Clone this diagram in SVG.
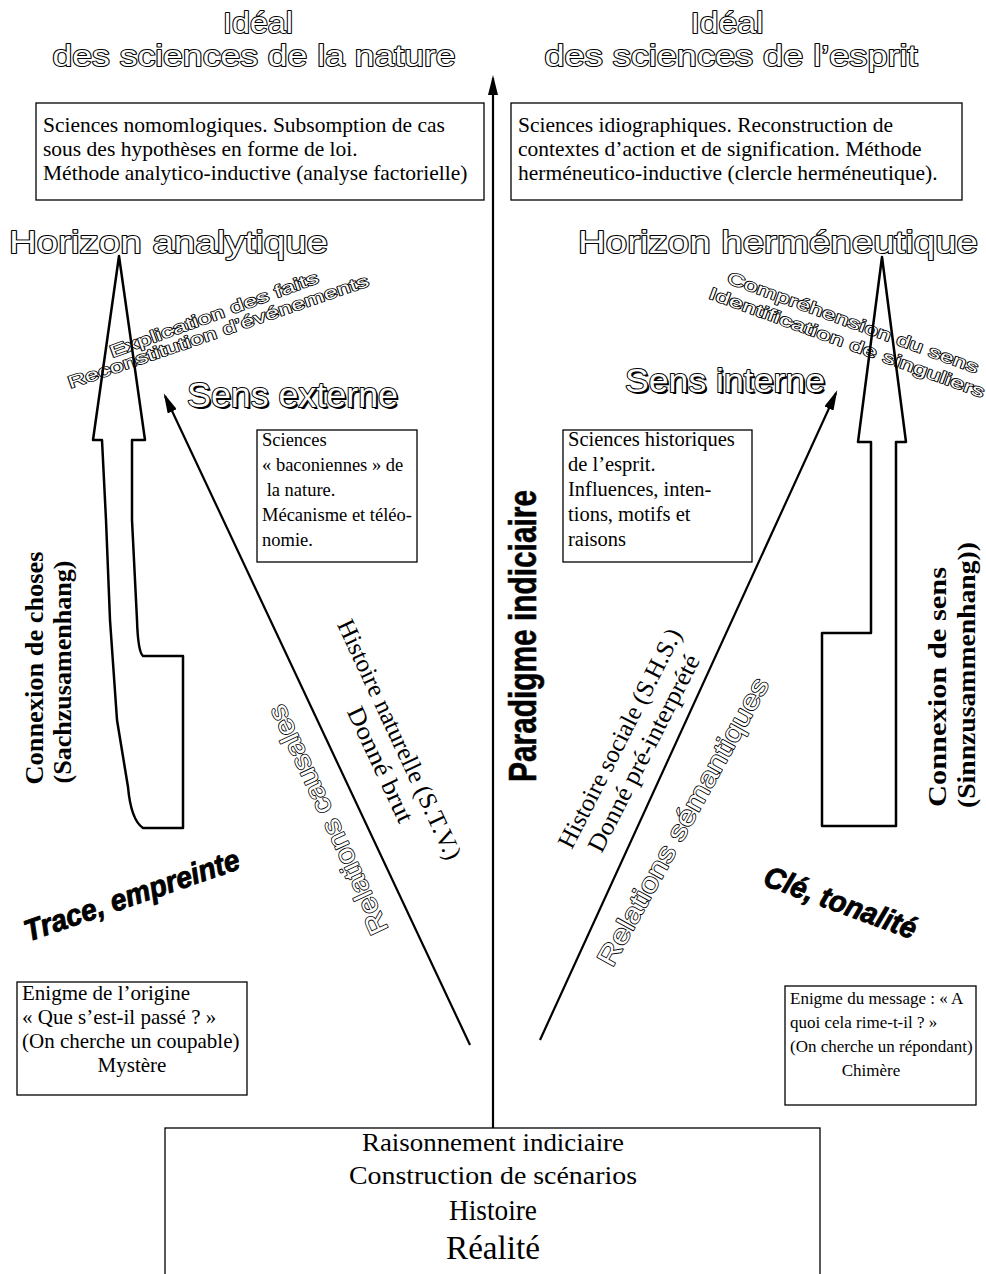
<svg xmlns="http://www.w3.org/2000/svg" width="986" height="1274" viewBox="0 0 986 1274">
<defs>
<style>
.hol{font-family:"Liberation Sans",Arial,sans-serif;fill:#fff;stroke:#000;stroke-width:2;stroke-linejoin:round;paint-order:stroke}
.hols{font-family:"Liberation Sans",Arial,sans-serif;fill:#fff;stroke:#000;stroke-width:1.6;stroke-linejoin:round;paint-order:stroke}
.sh{font-family:"Liberation Sans",Arial,sans-serif;fill:#000}
.box{fill:#fff;stroke:#000;stroke-width:1.3}
.bt{font-family:"Liberation Serif","Times New Roman",serif;fill:#000}
.sr{font-family:"Liberation Serif","Times New Roman",serif;fill:#000}
.srb{font-family:"Liberation Serif","Times New Roman",serif;font-weight:bold;fill:#000}
.blk{font-family:"Liberation Sans",Arial,sans-serif;font-weight:bold;font-style:italic;fill:#000;stroke:#000;stroke-width:0.9;stroke-linejoin:round}
.big{fill:none;stroke:#000;stroke-width:2.5;stroke-linejoin:round}
.con{fill:none;stroke:#000;stroke-width:2.2}
</style>
<marker id="ah" viewBox="0 0 20 10" refX="17" refY="5" markerWidth="20" markerHeight="10" markerUnits="userSpaceOnUse" orient="auto">
<path d="M0,0 L20,5 L0,10 Z" fill="#000"/>
</marker>
</defs>
<rect x="0" y="0" width="986" height="1274" fill="#fff"/>

<g id="titre-nature">
<text class="hol" x="258" y="33" font-size="30" text-anchor="middle" textLength="70" lengthAdjust="spacingAndGlyphs">Idéal</text>
<text class="hol" x="254" y="66" font-size="30" text-anchor="middle" textLength="403" lengthAdjust="spacingAndGlyphs">des sciences de la nature</text>
</g>
<g id="titre-esprit">
<text class="hol" x="727" y="33" font-size="30" text-anchor="middle" textLength="73" lengthAdjust="spacingAndGlyphs">Idéal</text>
<text class="hol" x="731" y="66" font-size="30" text-anchor="middle" textLength="373" lengthAdjust="spacingAndGlyphs">des sciences de l’esprit</text>
</g>

<g id="box-nomologiques">
<rect class="box" x="36" y="103" width="448" height="97"/>
<text class="bt" x="43" y="132" font-size="21.5">Sciences nomomlogiques. Subsomption de cas</text>
<text class="bt" x="43" y="156" font-size="21.5">sous des hypothèses en forme de loi.</text>
<text class="bt" x="43" y="180" font-size="21.5">Méthode analytico-inductive (analyse factorielle)</text>
</g>
<g id="box-idiographiques">
<rect class="box" x="511" y="103" width="451" height="97"/>
<text class="bt" x="518" y="132" font-size="21.5">Sciences idiographiques. Reconstruction de</text>
<text class="bt" x="518" y="156" font-size="21.5">contextes d’action et de signification. Méthode</text>
<text class="bt" x="518" y="180" font-size="21.5">herméneutico-inductive (clercle herméneutique).</text>
</g>

<g id="horizon-analytique">
<text class="hol" x="9" y="253" font-size="31" textLength="319" lengthAdjust="spacingAndGlyphs">Horizon analytique</text>
</g>
<g id="horizon-hermeneutique">
<text class="hol" x="578" y="253" font-size="31" textLength="400" lengthAdjust="spacingAndGlyphs">Horizon herméneutique</text>
</g>

<g id="explication">
<text class="hols" font-size="17" text-anchor="middle" textLength="221" lengthAdjust="spacingAndGlyphs" x="216" y="320" transform="rotate(-20 216 320)">Explication des faits</text>
<text class="hols" font-size="17" text-anchor="middle" textLength="317" lengthAdjust="spacingAndGlyphs" x="220" y="337" transform="rotate(-19 220 337)">Reconstitution d’événements</text>
</g>
<g id="comprehension">
<text class="hols" font-size="17" text-anchor="middle" textLength="266" lengthAdjust="spacingAndGlyphs" x="851" y="328" transform="rotate(20 851 328)">Compréhension du sens</text>
<text class="hols" font-size="17" text-anchor="middle" textLength="292" lengthAdjust="spacingAndGlyphs" x="845" y="348" transform="rotate(20 845 348)">Identification de singuliers</text>
</g>

<g id="fleche-analytique">
<path class="big" d="M119,256 L145,440 L132,440 L132,520 L137,620 Q138,652 143,656 L183,656 L183,828 L143,828 Q131,820 128,787 L117,720 L110,620 L106,520 L102,440 L93,440 Z"/>
</g>
<g id="fleche-hermeneutique">
<path class="big" d="M882,257 L906,442 L896,442 L896,826 L822,826 L822,633 L871,633 L871,442 L858,442 Z"/>
</g>

<g id="sens-externe">
<text class="sh" x="189" y="409" font-size="35" textLength="211" lengthAdjust="spacingAndGlyphs">Sens externe</text>
<text class="hol" x="187" y="407" font-size="35" textLength="211" lengthAdjust="spacingAndGlyphs">Sens externe</text>
</g>
<g id="sens-interne">
<text class="sh" x="627" y="394" font-size="34" textLength="200" lengthAdjust="spacingAndGlyphs">Sens interne</text>
<text class="hol" x="625" y="392" font-size="34" textLength="200" lengthAdjust="spacingAndGlyphs">Sens interne</text>
</g>

<g id="box-baconiennes">
<rect class="box" x="257" y="430" width="160" height="132"/>
<text class="bt" x="262" y="446" font-size="18.5">Sciences</text>
<text class="bt" x="262" y="471" font-size="18.5">« baconiennes » de</text>
<text class="bt" x="262" y="496" font-size="18.5" xml:space="preserve"> la nature.</text>
<text class="bt" x="262" y="521" font-size="18.5">Mécanisme et téléo-</text>
<text class="bt" x="262" y="546" font-size="18.5">nomie.</text>
</g>
<g id="box-historiques">
<rect class="box" x="563" y="430" width="189" height="132"/>
<text class="bt" x="568" y="446" font-size="20.5">Sciences historiques</text>
<text class="bt" x="568" y="471" font-size="20.5">de l’esprit.</text>
<text class="bt" x="568" y="496" font-size="20.5">Influences, inten-</text>
<text class="bt" x="568" y="521" font-size="20.5">tions, motifs et</text>
<text class="bt" x="568" y="546" font-size="20.5">raisons</text>
</g>

<g id="paradigme">
<text class="sh" font-weight="bold" fill="#111" stroke="#111" stroke-width="0.6" font-size="39" text-anchor="middle" textLength="292" lengthAdjust="spacingAndGlyphs" x="536" y="636" transform="rotate(-90 536 636)">Paradigme indiciaire</text>
</g>

<g id="connexion-choses">
<text class="srb" font-size="26" text-anchor="middle" textLength="233" lengthAdjust="spacingAndGlyphs" x="43" y="668" transform="rotate(-90 43 668)">Connexion de choses</text>
<text class="srb" font-size="26" text-anchor="middle" textLength="223" lengthAdjust="spacingAndGlyphs" x="71" y="672" transform="rotate(-90 71 672)">(Sachzusamenhang)</text>
</g>
<g id="connexion-sens">
<text class="srb" font-size="26" text-anchor="middle" textLength="240" lengthAdjust="spacingAndGlyphs" x="946" y="687" transform="rotate(-90 946 687)">Connexion de sens</text>
<text class="srb" font-size="26" text-anchor="middle" textLength="266" lengthAdjust="spacingAndGlyphs" x="975" y="675" transform="rotate(-90 975 675)">(Sinnzusammenhang))</text>
</g>

<g id="histoire-naturelle">
<text class="sr" font-size="25" text-anchor="middle" textLength="262" lengthAdjust="spacingAndGlyphs" x="392" y="743" transform="rotate(65 392 743)">Histoire naturelle (S.T.V.)</text>
<text class="sr" font-size="25" text-anchor="middle" textLength="125" lengthAdjust="spacingAndGlyphs" x="373" y="768" transform="rotate(65 373 768)">Donné brut</text>
</g>
<g id="relations-causales">
<text class="hols" font-size="27" text-anchor="middle" textLength="250" lengthAdjust="spacingAndGlyphs" x="336" y="816" transform="rotate(-115 336 816)">Relations causales</text>
</g>
<g id="histoire-sociale">
<text class="sr" font-size="25" text-anchor="middle" textLength="243" lengthAdjust="spacingAndGlyphs" x="627" y="742" transform="rotate(-63 627 742)">Histoire sociale (S.H.S.)</text>
<text class="sr" font-size="25" text-anchor="middle" textLength="218" lengthAdjust="spacingAndGlyphs" x="651" y="757" transform="rotate(-63 651 757)">Donné pré-interprété</text>
</g>
<g id="relations-semantiques">
<text class="hols" font-size="27" text-anchor="middle" textLength="325" lengthAdjust="spacingAndGlyphs" x="691" y="826" transform="rotate(-61 691 826)">Relations sémantiques</text>
</g>

<g id="trace">
<text class="blk" font-size="30" text-anchor="middle" textLength="226" lengthAdjust="spacingAndGlyphs" x="135" y="905" transform="rotate(-19 135 905)">Trace, empreinte</text>
</g>
<g id="cle">
<text class="blk" font-size="30" text-anchor="middle" textLength="160" lengthAdjust="spacingAndGlyphs" x="837" y="912" transform="rotate(20 837 912)">Clé, tonalité</text>
</g>

<g id="box-origine">
<rect class="box" x="17" y="982" width="230" height="113"/>
<text class="bt" x="22" y="1000" font-size="21">Enigme de l’origine</text>
<text class="bt" x="22" y="1024" font-size="21">« Que s’est-il passé ? »</text>
<text class="bt" x="22" y="1048" font-size="21">(On cherche un coupable)</text>
<text class="bt" x="132" y="1072" font-size="21" text-anchor="middle">Mystère</text>
</g>
<g id="box-message">
<rect class="box" x="785" y="986" width="191" height="119"/>
<text class="bt" x="790" y="1004" font-size="17">Enigme du message : « A</text>
<text class="bt" x="790" y="1028" font-size="17">quoi cela rime-t-il ? »</text>
<text class="bt" x="790" y="1052" font-size="17">(On cherche un répondant)</text>
<text class="bt" x="871" y="1076" font-size="17" text-anchor="middle">Chimère</text>
</g>

<g id="connecteurs">
<line class="con" x1="493" y1="1128" x2="493" y2="78" stroke-width="2.5" marker-end="url(#ah)"/>
<line class="con" x1="470" y1="1045" x2="165" y2="396" marker-end="url(#ah)"/>
<line class="con" x1="540" y1="1040" x2="836" y2="393" marker-end="url(#ah)"/>
</g>

<g id="box-realite">
<rect class="box" x="165" y="1128" width="655" height="170"/>
<text class="sr" x="493" y="1151" font-size="26" text-anchor="middle" textLength="262" lengthAdjust="spacingAndGlyphs">Raisonnement indiciaire</text>
<text class="sr" x="493" y="1184" font-size="26" text-anchor="middle" textLength="288" lengthAdjust="spacingAndGlyphs">Construction de scénarios</text>
<text class="sr" x="493" y="1220" font-size="29" text-anchor="middle" textLength="88" lengthAdjust="spacingAndGlyphs">Histoire</text>
<text class="sr" x="493" y="1259" font-size="34" text-anchor="middle" textLength="94" lengthAdjust="spacingAndGlyphs">Réalité</text>
</g>
</svg>
